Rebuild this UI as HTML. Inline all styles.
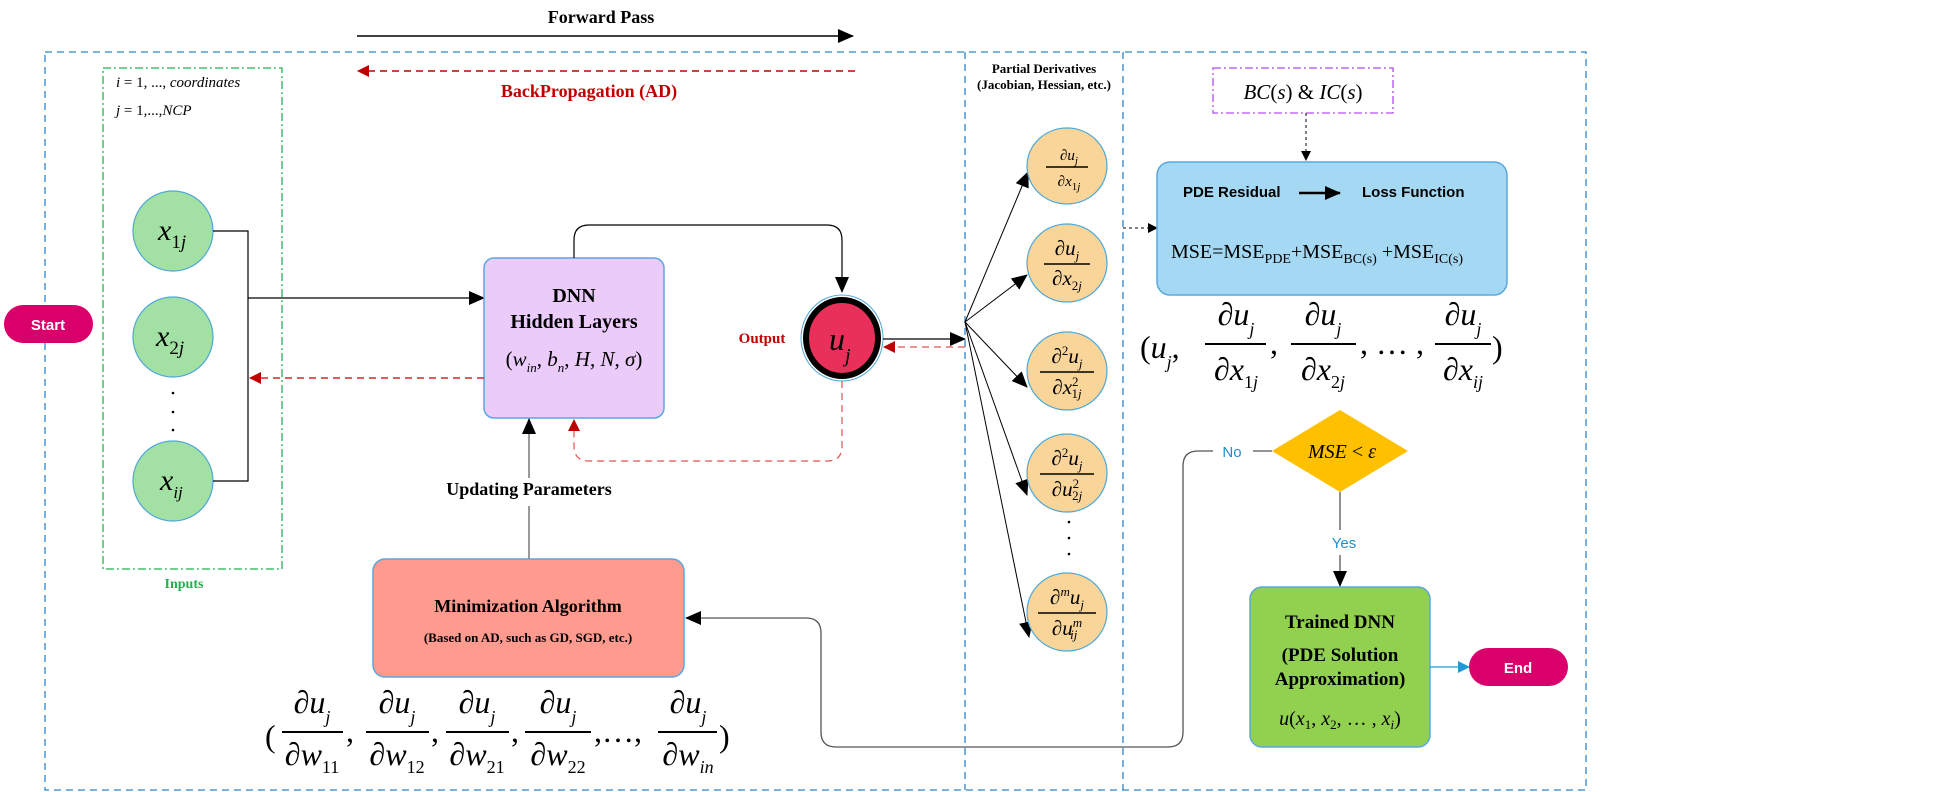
<!DOCTYPE html>
<html><head><meta charset="utf-8"><style>
html,body{margin:0;padding:0;background:#fff;}
svg{display:block;}
text{font-family:"Liberation Serif",serif;}
.s{font-family:"Liberation Sans","DejaVu Sans",sans-serif;}
.b{font-weight:bold;}
.i{font-style:italic;}
</style></head><body>
<svg width="1943" height="792" viewBox="0 0 1943 792" xmlns="http://www.w3.org/2000/svg">
<defs>
<marker id="ak" markerWidth="10" markerHeight="10" refX="9" refY="5" orient="auto" markerUnits="userSpaceOnUse"><path d="M0,0 L10,5 L0,10 z" fill="#000"/></marker>
<marker id="ab" markerWidth="16" markerHeight="14" refX="15" refY="7" orient="auto" markerUnits="userSpaceOnUse"><path d="M0,0 L16,7 L0,14 z" fill="#000"/></marker>
<marker id="ar" markerWidth="12" markerHeight="12" refX="11" refY="6" orient="auto" markerUnits="userSpaceOnUse"><path d="M0,0 L12,6 L0,12 z" fill="#c00000"/></marker>
<marker id="abl" markerWidth="12" markerHeight="12" refX="11" refY="6" orient="auto" markerUnits="userSpaceOnUse"><path d="M0,0 L12,6 L0,12 z" fill="#1f9ad6"/></marker>
</defs>

<!-- forward pass -->
<text x="601" y="23" font-size="18" class="b" text-anchor="middle">Forward Pass</text>
<line x1="357" y1="36" x2="853" y2="36" stroke="#000" stroke-width="1.5" marker-end="url(#ab)"/>
<!-- backprop -->
<line x1="855" y1="71" x2="358" y2="71" stroke="#c00000" stroke-width="1.5" stroke-dasharray="7,5" marker-end="url(#ar)"/>
<text x="589" y="97" font-size="18" class="b" fill="#c00000" text-anchor="middle">BackPropagation (AD)</text>

<!-- outer dashed box -->
<rect x="45" y="52" width="1541" height="738" fill="none" stroke="#2e86c8" stroke-width="1.3" stroke-dasharray="7,5"/>
<line x1="965" y1="52" x2="965" y2="790" stroke="#2e86c8" stroke-width="1.3" stroke-dasharray="7,5"/>
<line x1="1123" y1="52" x2="1123" y2="790" stroke="#2e86c8" stroke-width="1.3" stroke-dasharray="7,5"/>

<!-- inputs box -->
<rect x="103" y="68" width="179" height="501" fill="none" stroke="#22b14c" stroke-width="1.3" stroke-dasharray="8,3,2,3"/>
<text x="116" y="87" font-size="15" class="i">i <tspan font-style="normal">= 1, ..., </tspan>coordinates</text>
<text x="116" y="115" font-size="15" class="i">j <tspan font-style="normal">= 1,...,</tspan>NCP</text>
<text x="184" y="588" font-size="14" class="b" fill="#22b14c" text-anchor="middle">Inputs</text>

<!-- start -->
<rect x="4" y="305" width="89" height="38" rx="19" fill="#d9006c"/>
<text x="48" y="330" font-size="15" class="s b" fill="#fff" text-anchor="middle">Start</text>

<!-- input circles -->
<g fill="#a3e0a3" stroke="#4ea8d8" stroke-width="1.2">
<ellipse cx="173" cy="231" rx="40" ry="40"/>
<ellipse cx="173" cy="337" rx="40" ry="40"/>
<ellipse cx="173" cy="481" rx="40" ry="40"/>
</g>
<text x="158" y="240" font-size="30" class="i">x<tspan font-size="19" dy="8" font-style="normal">1</tspan><tspan font-size="19" class="i">j</tspan></text>
<text x="156" y="346" font-size="30" class="i">x<tspan font-size="19" dy="8" font-style="normal">2</tspan><tspan font-size="19" class="i">j</tspan></text>
<text x="160" y="490" font-size="30" class="i">x<tspan font-size="17" dy="8">ij</tspan></text>
<g fill="#000"><circle cx="173" cy="393" r="1.3"/><circle cx="173" cy="412" r="1.3"/><circle cx="173" cy="430" r="1.3"/></g>

<!-- bracket -->
<path d="M213,231 H248 V481 H213" fill="none" stroke="#000" stroke-width="1.2"/>
<line x1="248" y1="298" x2="484" y2="298" stroke="#000" stroke-width="1.2" marker-end="url(#ab)"/>

<!-- DNN box -->
<rect x="484" y="258" width="180" height="160" rx="10" fill="#eacbfa" stroke="#5aa8e0" stroke-width="1.5"/>
<text x="574" y="302" font-size="20" class="b" text-anchor="middle">DNN</text>
<text x="574" y="328" font-size="20" class="b" text-anchor="middle">Hidden Layers</text>
<text x="574" y="366" font-size="21" class="i" text-anchor="middle"><tspan font-style="normal">(</tspan>w<tspan font-size="13" dy="6">in</tspan><tspan dy="-6" font-style="normal">, </tspan>b<tspan font-size="13" dy="6">n</tspan><tspan dy="-6" font-style="normal">, </tspan>H<tspan font-style="normal">, </tspan>N<tspan font-style="normal">, </tspan>σ<tspan font-style="normal">)</tspan></text>
<line x1="484" y1="378" x2="250" y2="378" stroke="#c00000" stroke-width="1.2" stroke-dasharray="7,5" marker-end="url(#ar)"/>

<!-- connector DNN -> output -->
<path d="M574,258 V240 Q574,225 589,225 H827 Q842,225 842,240 V292" fill="none" stroke="#000" stroke-width="1.2" marker-end="url(#ab)"/>

<!-- output -->
<ellipse cx="842" cy="338" rx="36" ry="38" fill="#e8305a" stroke="#000" stroke-width="6"/>
<ellipse cx="842" cy="338" rx="41" ry="43" fill="none" stroke="#4ea8d8" stroke-width="1"/>
<text x="829" y="350" font-size="32" class="i">u<tspan font-size="20" dy="12">j</tspan></text>
<text x="762" y="343" font-size="15" class="b" fill="#c00000" text-anchor="middle">Output</text>
<line x1="883" y1="339" x2="965" y2="339" stroke="#000" stroke-width="1.2" marker-end="url(#ab)"/>
<line x1="965" y1="347" x2="884" y2="347" stroke="#e05050" stroke-width="1.2" stroke-dasharray="7,5" marker-end="url(#ar)"/>
<path d="M842,381 V446 Q842,461 827,461 H589 Q574,461 574,446 V420" fill="none" stroke="#e05050" stroke-width="1.2" stroke-dasharray="7,5" marker-end="url(#ar)"/>

<!-- updating -->
<line x1="529" y1="559" x2="529" y2="506" stroke="#555" stroke-width="1.2"/>
<line x1="529" y1="478" x2="529" y2="419" stroke="#555" stroke-width="1.2" marker-end="url(#ab)"/>
<text x="529" y="495" font-size="18" class="b" text-anchor="middle">Updating Parameters</text>

<!-- minimization -->
<rect x="373" y="559" width="311" height="118" rx="12" fill="#ff9a8e" stroke="#5aa8e0" stroke-width="1.5"/>
<text x="528" y="612" font-size="18" class="b" text-anchor="middle">Minimization Algorithm</text>
<text x="528" y="642" font-size="13" class="b" text-anchor="middle">(Based on AD, such as GD, SGD, etc.)</text>

<!-- bottom formula -->
<g font-size="32">
<text x="265" y="747" font-style="normal">(</text>
<g class="i" text-anchor="middle">
<text x="312" y="713">∂u<tspan font-size="18" dy="10">j</tspan></text>
<text x="312" y="765">∂w<tspan font-size="18" dy="8" font-style="normal">11</tspan></text>
<text x="397" y="713">∂u<tspan font-size="18" dy="10">j</tspan></text>
<text x="397" y="765">∂w<tspan font-size="18" dy="8" font-style="normal">12</tspan></text>
<text x="477" y="713">∂u<tspan font-size="18" dy="10">j</tspan></text>
<text x="477" y="765">∂w<tspan font-size="18" dy="8" font-style="normal">21</tspan></text>
<text x="558" y="713">∂u<tspan font-size="18" dy="10">j</tspan></text>
<text x="558" y="765">∂w<tspan font-size="18" dy="8" font-style="normal">22</tspan></text>
<text x="688" y="713">∂u<tspan font-size="18" dy="10">j</tspan></text>
<text x="688" y="765">∂w<tspan font-size="18" dy="8">in</tspan></text>
</g>
<text x="346" y="742">,</text><text x="431" y="742">,</text><text x="511" y="742">,</text>
<text x="594" y="742">,…,</text>
<text x="719" y="747">)</text>
</g>
<g stroke="#000" stroke-width="2">
<line x1="282" y1="732" x2="343" y2="732"/><line x1="366" y1="732" x2="429" y2="732"/>
<line x1="446" y1="732" x2="509" y2="732"/><line x1="525" y1="732" x2="591" y2="732"/>
<line x1="658" y1="732" x2="717" y2="732"/>
</g>

<!-- partial derivatives -->
<text x="1044" y="73" font-size="13" class="b" text-anchor="middle">Partial Derivatives</text>
<text x="1044" y="89" font-size="13" class="b" text-anchor="middle">(Jacobian, Hessian, etc.)</text>
<g stroke="#000" stroke-width="1" fill="none">
<line x1="965" y1="322" x2="1028" y2="172" marker-end="url(#ab)"/>
<line x1="965" y1="322" x2="1027" y2="275" marker-end="url(#ab)"/>
<line x1="965" y1="322" x2="1027" y2="387" marker-end="url(#ab)"/>
<line x1="965" y1="322" x2="1027" y2="495" marker-end="url(#ab)"/>
<line x1="965" y1="322" x2="1029" y2="637" marker-end="url(#ab)"/>
</g>
<g fill="#fad59a" stroke="#4ea8d8" stroke-width="1.2">
<ellipse cx="1067" cy="166" rx="40" ry="38"/>
<ellipse cx="1067" cy="263" rx="40" ry="39"/>
<ellipse cx="1067" cy="371" rx="40" ry="39"/>
<ellipse cx="1067" cy="473" rx="40" ry="39"/>
<ellipse cx="1067" cy="612" rx="40" ry="39"/>
</g>
<g fill="#000"><circle cx="1069" cy="522" r="1.3"/><circle cx="1069" cy="538" r="1.3"/><circle cx="1069" cy="554" r="1.3"/></g>
<g class="i" text-anchor="middle" font-family="Liberation Serif">
<text x="1069" y="160" font-size="15">∂u<tspan font-size="11" dy="4">j</tspan></text>
<text x="1069" y="186" font-size="15">∂x<tspan font-size="11" dy="4" font-style="normal">1</tspan><tspan font-size="11">j</tspan></text>
<text x="1067" y="255" font-size="21">∂u<tspan font-size="13" dy="5">j</tspan></text>
<text x="1067" y="285" font-size="21">∂x<tspan font-size="13" dy="5" font-style="normal">2</tspan><tspan font-size="13">j</tspan></text>
<text x="1067" y="363" font-size="21">∂<tspan font-size="13" dy="-8" font-style="normal">2</tspan><tspan dy="8">u</tspan><tspan font-size="13" dy="5">j</tspan></text>
<text x="1067" y="394" font-size="21">∂x<tspan font-size="13" dy="-8" font-style="normal">2</tspan><tspan font-size="13" dx="-7" dy="12" font-style="normal">1</tspan><tspan font-size="13">j</tspan></text>
<text x="1067" y="465" font-size="21">∂<tspan font-size="13" dy="-8" font-style="normal">2</tspan><tspan dy="8">u</tspan><tspan font-size="13" dy="5">j</tspan></text>
<text x="1067" y="496" font-size="21">∂u<tspan font-size="13" dy="-8" font-style="normal">2</tspan><tspan font-size="13" dx="-7" dy="12" font-style="normal">2</tspan><tspan font-size="13">j</tspan></text>
<text x="1067" y="604" font-size="21">∂<tspan font-size="13" dy="-8">m</tspan><tspan dy="8">u</tspan><tspan font-size="13" dy="5">j</tspan></text>
<text x="1067" y="635" font-size="21">∂u<tspan font-size="13" dy="-8">m</tspan><tspan font-size="13" dx="-12" dy="12">ij</tspan></text>
</g>
<g stroke="#000" stroke-width="1.5">
<line x1="1046" y1="167" x2="1088" y2="167"/>
<line x1="1044" y1="264" x2="1090" y2="264"/>
<line x1="1040" y1="372" x2="1094" y2="372"/>
<line x1="1040" y1="474" x2="1094" y2="474"/>
<line x1="1038" y1="613" x2="1096" y2="613"/>
</g>

<!-- to PDE box -->
<line x1="1123" y1="228" x2="1157" y2="228" stroke="#000" stroke-width="1" stroke-dasharray="3,3" marker-end="url(#ak)"/>

<!-- BC box -->
<rect x="1213" y="68" width="180" height="45" fill="none" stroke="#b44cf0" stroke-width="1.3" stroke-dasharray="8,3,2,3"/>
<text x="1303" y="99" font-size="21" class="i" text-anchor="middle">BC<tspan font-style="normal">(</tspan>s<tspan font-style="normal">) &amp; </tspan>IC<tspan font-style="normal">(</tspan>s<tspan font-style="normal">)</tspan></text>
<line x1="1306" y1="113" x2="1306" y2="160" stroke="#000" stroke-width="1" stroke-dasharray="3,3" marker-end="url(#ak)"/>

<!-- PDE box -->
<rect x="1157" y="162" width="350" height="133" rx="13" fill="#a5d8f3" stroke="#5aa8e0" stroke-width="1.5"/>
<text x="1183" y="197" font-size="15" class="s b">PDE Residual</text>
<line x1="1299" y1="193" x2="1340" y2="193" stroke="#000" stroke-width="2.5" marker-end="url(#ab)"/>
<text x="1362" y="197" font-size="15" class="s b">Loss Function</text>
<text x="1171" y="258" font-size="20">MSE=MSE<tspan font-size="14" dy="5">PDE</tspan><tspan dy="-5">+MSE</tspan><tspan font-size="14" dy="5">BC(s)</tspan><tspan dy="-5"> +MSE</tspan><tspan font-size="14" dy="5">IC(s)</tspan></text>

<!-- right formula -->
<g font-size="32">
<text x="1140" y="358">(<tspan font-style="italic">u</tspan><tspan font-size="18" dy="10" font-style="italic">j</tspan><tspan dy="-10">,</tspan></text>
<g class="i" text-anchor="middle">
<text x="1236" y="325">∂u<tspan font-size="18" dy="10">j</tspan></text>
<text x="1236" y="380">∂x<tspan font-size="18" dy="8" font-style="normal">1</tspan><tspan font-size="18">j</tspan></text>
<text x="1323" y="325">∂u<tspan font-size="18" dy="10">j</tspan></text>
<text x="1323" y="380">∂x<tspan font-size="18" dy="8" font-style="normal">2</tspan><tspan font-size="18">j</tspan></text>
<text x="1463" y="325">∂u<tspan font-size="18" dy="10">j</tspan></text>
<text x="1463" y="380">∂x<tspan font-size="18" dy="8">ij</tspan></text>
</g>
<text x="1270" y="354">,</text>
<text x="1360" y="354">, … ,</text>
<text x="1492" y="358">)</text>
</g>
<g stroke="#000" stroke-width="2">
<line x1="1205" y1="344" x2="1266" y2="344"/><line x1="1291" y1="344" x2="1356" y2="344"/><line x1="1435" y1="344" x2="1491" y2="344"/>
</g>

<!-- decision -->
<polygon points="1340,410 1408,451 1340,492 1272,451" fill="#ffc000"/>
<text x="1342" y="458" font-size="20" class="i" text-anchor="middle">MSE <tspan font-style="normal">&lt;</tspan> ε</text>
<path d="M1272,451 H1253 M1213,451 H1198 Q1183,451 1183,466 V732 Q1183,747 1168,747 H836 Q821,747 821,732 V633 Q821,618 806,618 H686" fill="none" stroke="#555" stroke-width="1.3" marker-end="url(#ab)"/>
<text x="1232" y="457" font-size="15" class="s" fill="#1f8fd0" text-anchor="middle">No</text>
<line x1="1340" y1="492" x2="1340" y2="530" stroke="#555" stroke-width="1.3"/>
<line x1="1340" y1="555" x2="1340" y2="586" stroke="#555" stroke-width="1.3" marker-end="url(#ab)"/>
<text x="1344" y="548" font-size="15" class="s" fill="#1f8fd0" text-anchor="middle">Yes</text>

<!-- trained -->
<rect x="1250" y="587" width="180" height="160" rx="12" fill="#92d050" stroke="#5aa8e0" stroke-width="1.5"/>
<text x="1340" y="628" font-size="19" class="b" text-anchor="middle">Trained DNN</text>
<text x="1340" y="661" font-size="19" class="b" text-anchor="middle">(PDE Solution</text>
<text x="1340" y="685" font-size="19" class="b" text-anchor="middle">Approximation)</text>
<text x="1340" y="725" font-size="20" class="i" text-anchor="middle">u<tspan font-style="normal">(</tspan>x<tspan font-size="13" dy="4" font-style="normal">1</tspan><tspan dy="-4" font-style="normal">, </tspan>x<tspan font-size="13" dy="4" font-style="normal">2</tspan><tspan dy="-4" font-style="normal">, … , </tspan>x<tspan font-size="13" dy="4">i</tspan><tspan dy="-4" font-style="normal">)</tspan></text>
<line x1="1430" y1="667" x2="1469" y2="667" stroke="#1f9ad6" stroke-width="1.3" marker-end="url(#abl)"/>
<rect x="1469" y="648" width="99" height="38" rx="19" fill="#d9006c"/>
<text x="1518" y="673" font-size="15" class="s b" fill="#fff" text-anchor="middle">End</text>
</svg>
</body></html>
